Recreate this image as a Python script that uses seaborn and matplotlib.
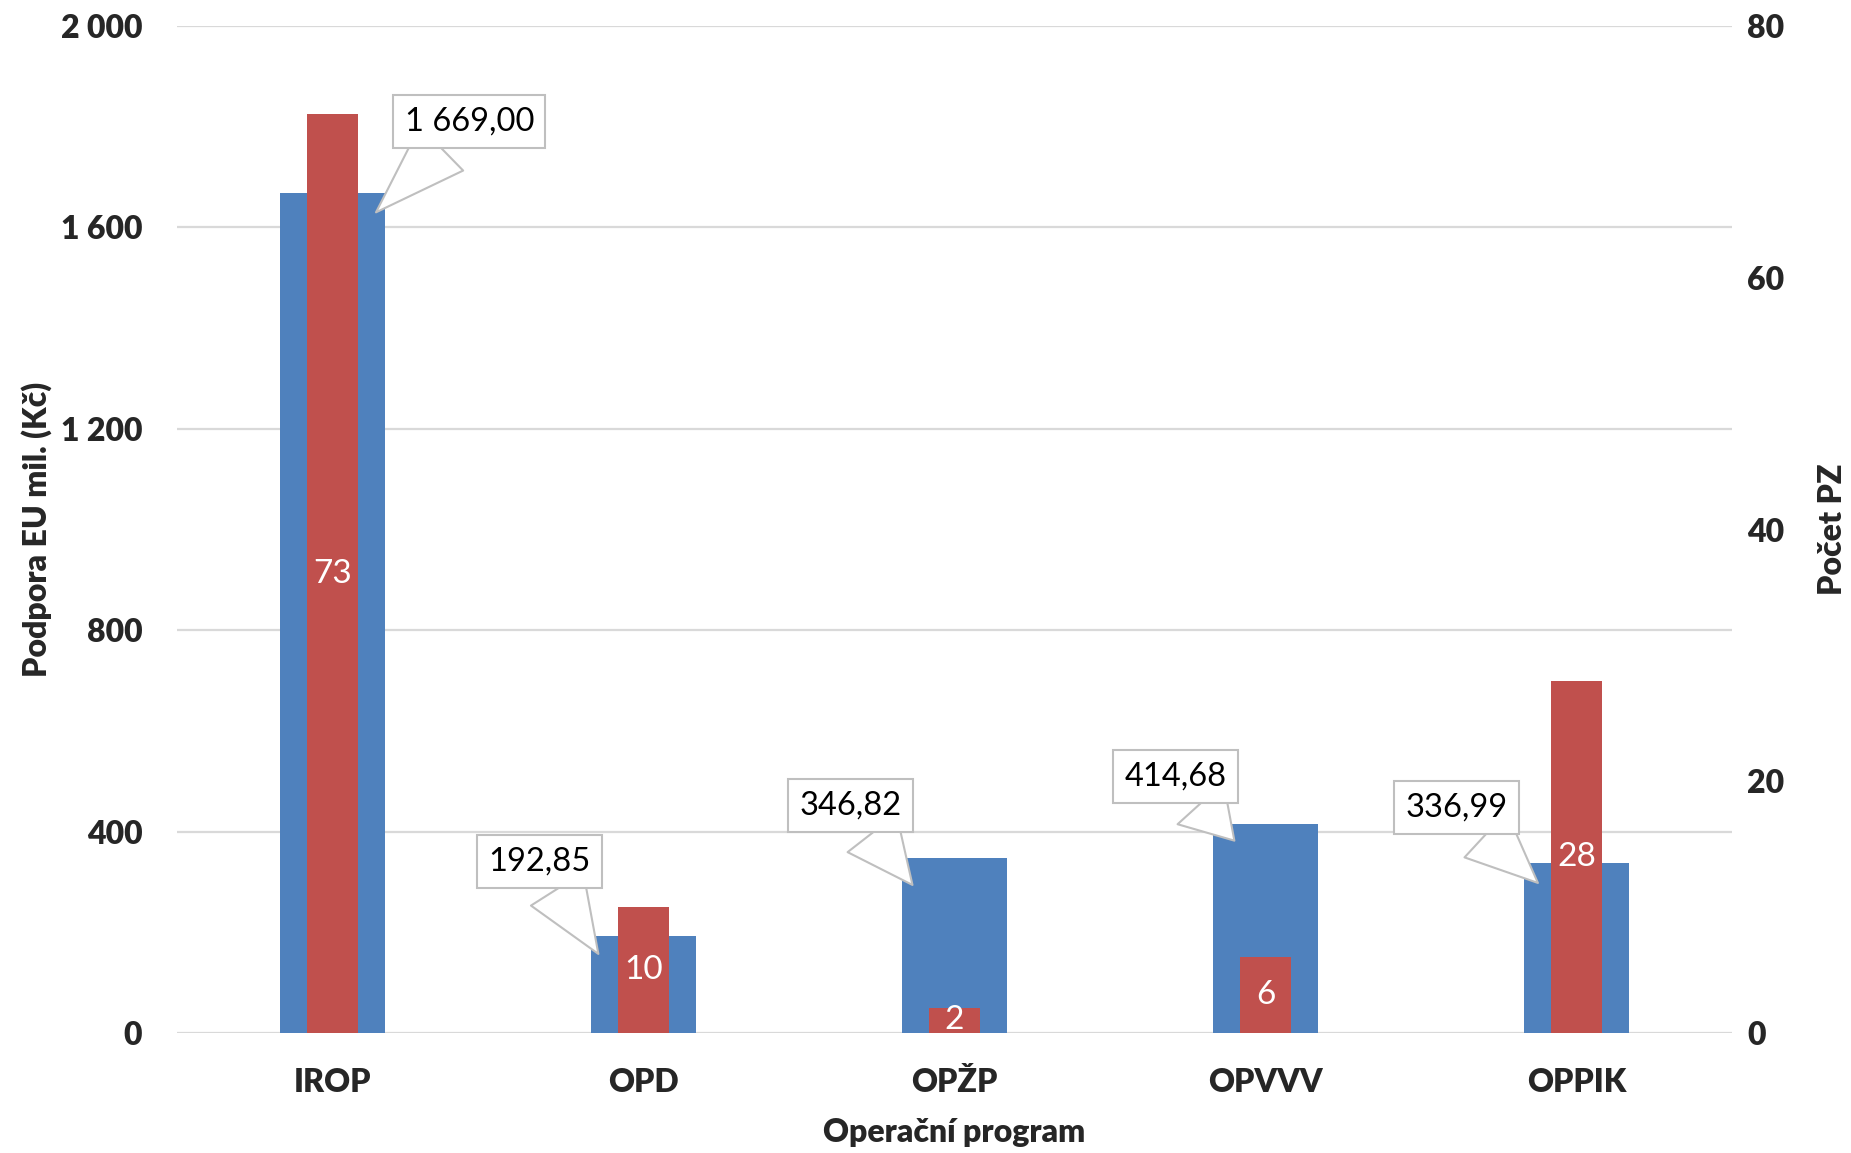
#!/usr/bin/env python3

import matplotlib
matplotlib.use("Agg")
import matplotlib.pyplot as plt
import seaborn as sns

# Data
programs = ["IROP", "OPD", "OPŽP", "OPVVV", "OPPIK"]
podpora_eu = [1669.00, 192.85, 346.82, 414.68, 336.99]
pocet_pz = [73, 10, 2, 6, 28]
left_ticks = [0, 400, 800, 1200, 1600, 2000]
right_ticks = [0, 20, 40, 60, 80]

# Callout layout: (text dx, text y, point dx, point y) relative to category
callout_layout = [
    (0.44, 1811, 0.14, 1630),
    (-0.333, 340, -0.145, 157),
    (-0.333, 451, -0.135, 294),
    (-0.288, 510, -0.10, 382),
    (-0.387, 448, -0.124, 298),
]

BLUE = "#4F81BD"
RED = "#C0504D"
GRID = "#D9D9D9"


def fmt_cz(value, decimals=0):
    s = f"{value:,.{decimals}f}"
    return s.replace(",", " ").replace(".", ",")


def main():
    sns.set_theme(style="white")
    plt.rcParams["font.family"] = ["Lato", "DejaVu Sans"]

    fig = plt.figure(figsize=(18.51, 11.53), dpi=100)
    ax = fig.add_axes([0.0956, 0.1041, 0.9357 - 0.0956, 0.9774 - 0.1041])
    ax2 = ax.twinx()

    sns.barplot(x=programs, y=podpora_eu, ax=ax, color=BLUE, width=0.335,
                saturation=1, errorbar=None, linewidth=0)
    sns.barplot(x=programs, y=pocet_pz, ax=ax2, color=RED, width=0.165,
                saturation=1, errorbar=None, linewidth=0)

    ax.set_ylim(0, 2000)
    ax2.set_ylim(0, 80)
    ax.set_xlim(-0.5, len(programs) - 0.5)
    ax.set_yticks(left_ticks)
    ax.set_yticklabels([fmt_cz(t) for t in left_ticks])
    ax2.set_yticks(right_ticks)
    ax2.set_yticklabels([str(t) for t in right_ticks])

    ax.set_axisbelow(True)
    ax.yaxis.grid(True, color=GRID, lw=1.6)
    ax2.grid(False)
    for a in (ax, ax2):
        for sp in a.spines.values():
            sp.set_visible(False)

    ax.tick_params(axis="y", length=0, pad=25, labelsize=23)
    ax2.tick_params(axis="y", length=0, pad=11, labelsize=23)
    ax.tick_params(axis="x", length=0, pad=25, labelsize=23)
    for lbl in ax.get_xticklabels() + ax.get_yticklabels() + ax2.get_yticklabels():
        lbl.set_fontweight("heavy")

    ax.set_xlabel("Operační program", fontsize=23, fontweight="heavy", labelpad=15)
    ax.set_ylabel("Podpora EU mil. (Kč)", fontsize=23, fontweight="heavy", labelpad=6)
    ax2.set_ylabel("Počet PZ", fontsize=23, fontweight="heavy", labelpad=24)

    # Red bar labels
    ax2.bar_label(ax2.containers[0], labels=[str(v) for v in pocet_pz],
                  label_type="center", color="white", fontsize=24)

    # Callouts for blue bars
    for i, (val, lay) in enumerate(zip(podpora_eu, callout_layout)):
        tdx, ty, pdx, py = lay
        ax2.annotate(
            fmt_cz(val, 2),
            xy=(i + pdx, py), xycoords=ax.transData,
            xytext=(i + tdx, ty), textcoords=ax.transData,
            ha="center", va="center", fontsize=23.5, color="black",
            bbox=dict(boxstyle="square,pad=0.35", fc="white", ec="#BFBFBF", lw=1.5),
            arrowprops=dict(arrowstyle="wedge,tail_width=1.9", fc="white",
                            ec="#BFBFBF", lw=1.5, shrinkA=0, shrinkB=0),
            zorder=10,
        )

    fig.savefig("out.png", dpi=100)
    plt.close(fig)


if __name__ == "__main__":
    main()
